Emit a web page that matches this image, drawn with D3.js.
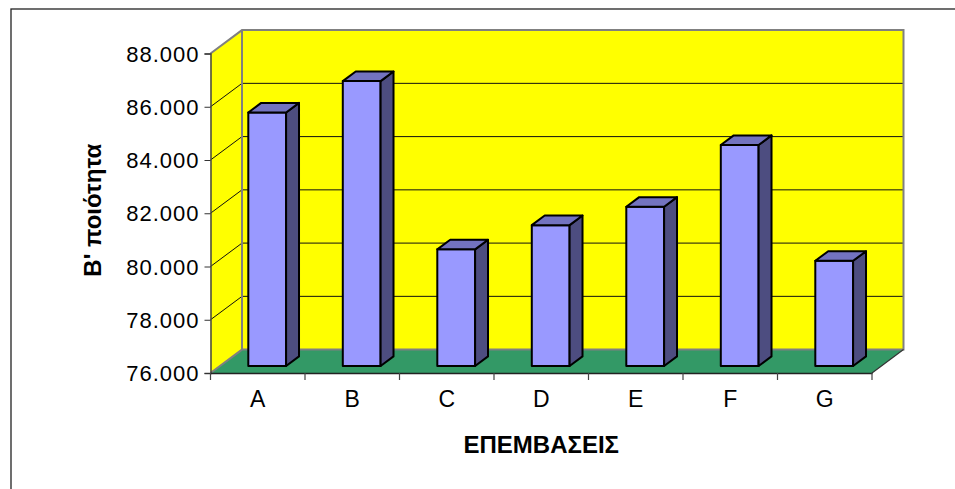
<!DOCTYPE html>
<html><head><meta charset="utf-8">
<script src="https://cdn.jsdelivr.net/npm/d3@7"></script>
<style>body{margin:0;background:#fff}svg{display:block}</style>
</head><body>
<svg id="c" width="955" height="489"></svg>
<script>
const categories = ["A","B","C","D","E","F","G"];
const values = [85.52, 86.70, 80.38, 81.29, 81.98, 84.30, 79.95];
const yTicks = [76, 78, 80, 82, 84, 86, 88];
const xTitle = "ΕΠΕΜΒΑΣΕΙΣ";
const yTitle = "Β' ποιότητα";

const svg = d3.select("#c");
const font = "Arial, 'Liberation Sans', sans-serif";
const DX = 31.5, DY = -23.4;
const x = d3.scaleBand().domain(categories).range([210.5, 872]).padding(0);
const y = d3.scaleLinear().domain([76, 88]).range([373, 53.5]);
const bw = x.bandwidth();
const x0 = 210.5, x1 = 872, yb = y(76), yt = y(88);

// outer frame
svg.append("rect").attr("x", 11).attr("y", 9).attr("width", 1200).attr("height", 1200)
  .attr("fill", "none").attr("stroke", "#222").attr("stroke-width", 1.3);

const line = d3.line();
// left wall
svg.append("path").attr("d", line([[x0, yt],[x0+DX, yt+DY],[x0+DX, yb+DY],[x0, yb]]) + "Z")
  .attr("fill", "#ffff00");
// back wall
svg.append("path").attr("d", line([[x0+DX, yt+DY],[x1+DX, yt+DY],[x1+DX, yb+DY],[x0+DX, yb+DY]]) + "Z")
  .attr("fill", "#ffff00");
// gridlines
yTicks.slice(1, -1).forEach(t => {
  svg.append("path").attr("d", line([[x0, y(t)],[x0+DX, y(t)+DY],[x1+DX, y(t)+DY]]))
    .attr("fill", "none").attr("stroke", "#111").attr("stroke-width", 1);
});
// floor
svg.append("path").attr("d", line([[x0, yb],[x1, yb],[x1+DX, yb+DY],[x0+DX, yb+DY]]) + "Z")
  .attr("fill", "#339966");
// wall edges
svg.append("path").attr("d", line([[x0, yt],[x0+DX, yt+DY],[x1+DX, yt+DY],[x1+DX, yb+DY],[x0+DX, yb+DY],[x0, yb]]))
  .attr("fill", "none").attr("stroke", "#808080").attr("stroke-width", 2);
svg.append("path").attr("d", line([[x0+DX, yt+DY],[x0+DX, yb+DY]]))
  .attr("fill", "none").attr("stroke", "#808080").attr("stroke-width", 2);
svg.append("path").attr("d", line([[x1, yb],[x1+DX, yb+DY]]))
  .attr("fill", "none").attr("stroke", "#333").attr("stroke-width", 1.2);

// bars
const f0 = 0.30, f1 = 0.71;
const g = svg.append("g");
categories.forEach((c, i) => {
  const v = values[i];
  const lx = x(c) + 0.3*bw + f0*DX, rx = x(c) + 0.7*bw + f0*DX;
  const by = y(76) + f0*DY, ty = y(v) + f0*DY;
  const ddx = (f1-f0)*DX, ddy = (f1-f0)*DY;
  const add = (pts, fill) => g.append("path").attr("d", line(pts) + "Z").attr("fill", fill)
    .attr("stroke", "#000").attr("stroke-width", 2).attr("stroke-linejoin", "round");
  add([[lx, ty],[rx, ty],[rx, by],[lx, by]], "#9999ff");
  add([[rx, ty],[rx+ddx, ty+ddy],[rx+ddx, by+ddy],[rx, by]], "#4d4d80");
  add([[lx, ty],[lx+ddx, ty+ddy],[rx+ddx, ty+ddy],[rx, ty]], "#7373c0");
});

// y axis
const ya = svg.append("g").attr("transform", `translate(${x0},0)`)
  .call(d3.axisLeft(y).tickValues(yTicks).tickSize(6).tickPadding(5).tickFormat(d => d + ".000"));
ya.select(".domain").attr("stroke", "#444").attr("stroke-width", 1.5);
ya.selectAll(".tick line").attr("stroke", "#333");
ya.selectAll("text").attr("font-family", font).attr("font-size", 22).attr("fill", "#000")
  .attr("letter-spacing", 1).attr("dy", "0.35em");

// x axis
const xa = svg.append("g").attr("transform", `translate(0,${yb})`)
  .call(d3.axisBottom(x).tickSize(0).tickPadding(18));
xa.select(".domain").attr("stroke", "#222").attr("stroke-width", 1.5);
xa.selectAll("text").attr("font-family", font).attr("font-size", 23).attr("fill", "#000");
const edges = categories.map(c => x(c)).concat([x1]);
xa.selectAll(".xt").data(edges).join("line").attr("class", "xt")
  .attr("x1", d => d).attr("x2", d => d).attr("y1", 0).attr("y2", 7).attr("stroke", "#444").attr("stroke-width", 1.2);

// titles
svg.append("text").attr("x", (x0 + x1)/2).attr("y", 453).attr("text-anchor", "middle")
  .attr("font-family", font).attr("font-weight", "bold").attr("font-size", 24).text(xTitle);
svg.append("text").attr("transform", `translate(101,${(yt+yb)/2 - 3}) rotate(-90)`).attr("text-anchor", "middle")
  .attr("font-family", font).attr("font-weight", "bold").attr("font-size", 24).text(yTitle);
</script>
</body></html>
